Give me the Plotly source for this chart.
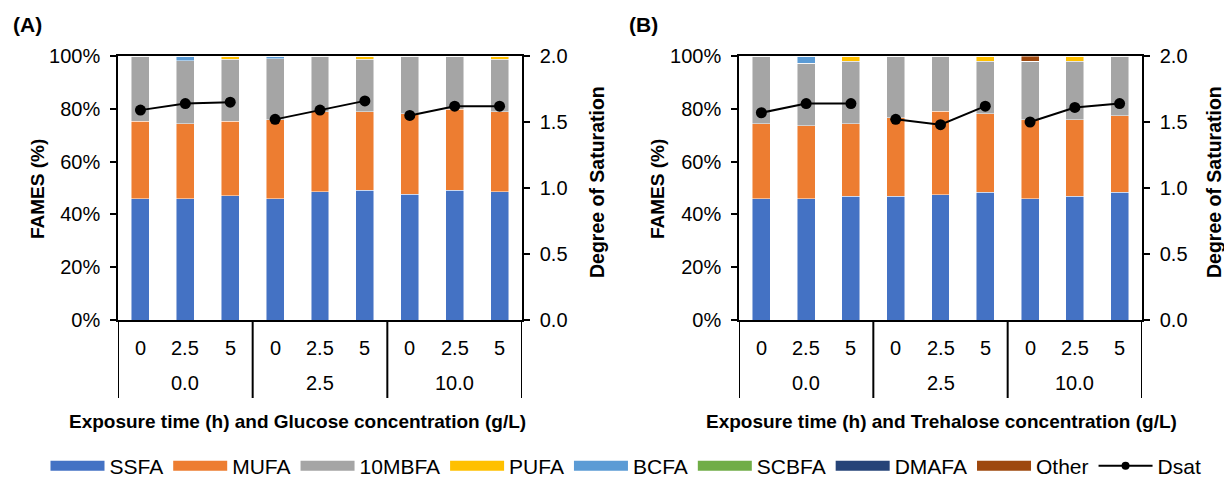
import plotly.graph_objects as go

W, H = 1224, 479

# ---------------- data ----------------
groups = ["0.0", "0.0", "0.0", "2.5", "2.5", "2.5", "10.0", "10.0", "10.0"]
times = ["0", "2.5", "5", "0", "2.5", "5", "0", "2.5", "5"]
group_labels = ["0.0", "2.5", "10.0"]

# Panel A (Glucose) - FAMES composition (%)
ssfa_a = [46.0, 46.0, 47.0, 46.0, 48.5, 49.2, 47.6, 49.2, 48.5]
mufa_a = [29.2, 28.4, 28.2, 29.8, 30.4, 29.7, 30.6, 30.6, 30.4]
mbfa_a = [24.8, 23.8, 23.5, 23.2, 21.1, 19.8, 21.8, 20.2, 19.8]
pufa_a = [0, 0, 1.3, 0, 0, 1.3, 0, 0, 1.3]
bcfa_a = [0, 1.8, 0, 1.0, 0, 0, 0, 0, 0]
scbfa_a = [0, 0, 0, 0, 0, 0, 0, 0, 0]
dmafa_a = [0, 0, 0, 0, 0, 0, 0, 0, 0]
other_a = [0, 0, 0, 0, 0, 0, 0, 0, 0]
dsat_a = [1.59, 1.64, 1.65, 1.52, 1.59, 1.66, 1.55, 1.62, 1.62]

# Panel B (Trehalose)
ssfa_b = [46.0, 46.0, 46.8, 46.8, 47.5, 48.3, 46.0, 46.8, 48.3]
mufa_b = [28.4, 27.6, 27.6, 29.9, 31.6, 29.9, 29.9, 29.1, 29.1]
mbfa_b = [25.6, 23.6, 23.6, 23.3, 20.9, 19.8, 22.1, 22.1, 22.6]
pufa_b = [0, 0, 2.0, 0, 0, 2.0, 0, 2.0, 0]
bcfa_b = [0, 2.8, 0, 0, 0, 0, 0, 0, 0]
scbfa_b = [0, 0, 0, 0, 0, 0, 0, 0, 0]
dmafa_b = [0, 0, 0, 0, 0, 0, 0, 0, 0]
other_b = [0, 0, 0, 0, 0, 0, 2.0, 0, 0]
dsat_b = [1.57, 1.64, 1.64, 1.52, 1.48, 1.62, 1.50, 1.61, 1.64]

series_names = ["SSFA", "MUFA", "10MBFA", "PUFA", "BCFA", "SCBFA", "DMAFA", "Other"]
colors = ["#4472C4", "#ED7D31", "#A5A5A5", "#FFC000", "#5B9BD5", "#70AD47", "#264478", "#9E480E"]

FONT = "Liberation Sans, Arial, sans-serif"

# unique category keys (hidden) built from groups/times
cats = [f"{g}|{t}" for g, t in zip(groups, times)]

fig = go.Figure()

panels = [
    ([ssfa_a, mufa_a, mbfa_a, pufa_a, bcfa_a, scbfa_a, dmafa_a, other_a], dsat_a, "x", "y", "y2"),
    ([ssfa_b, mufa_b, mbfa_b, pufa_b, bcfa_b, scbfa_b, dmafa_b, other_b], dsat_b, "x2", "y3", "y4"),
]

for vals, dsat, xa, ya, ya2 in panels:
    for name, col, v in zip(series_names, colors, vals):
        fig.add_trace(go.Bar(
            x=cats, y=v, name=name, marker_color=col,
            marker_line=dict(color="rgba(255,255,255,0.6)", width=0.8),
            xaxis=xa, yaxis=ya, showlegend=False,
        ))
    for g in range(3):
        sl = slice(3 * g, 3 * g + 3)
        fig.add_trace(go.Scatter(
            x=cats[sl], y=dsat[sl], mode="lines+markers",
            line=dict(color="black", width=2), marker=dict(color="black", size=11),
            xaxis=xa, yaxis=ya2, showlegend=False, name="Dsat",
        ))

# legend-only entries on a hidden axis
for name, col in zip(series_names, colors):
    fig.add_trace(go.Scatter(
        x=[None], y=[None], mode="lines", name=name,
        line=dict(color=col, width=10), xaxis="x3", yaxis="y5",
    ))
fig.add_trace(go.Scatter(
    x=[None], y=[None], mode="lines+markers", name="Dsat",
    line=dict(color="black", width=2), marker=dict(color="black", size=8),
    xaxis="x3", yaxis="y5",
))

ybot, ytop = 1 - 320 / H, 1 - 56 / H
tickfont = dict(family=FONT, size=20, color="black")

def xax(domain, anchor):
    return dict(
        domain=domain, anchor=anchor, type="category", categoryorder="array", categoryarray=cats,
        range=[-0.5, len(cats) - 0.5],
        showline=True, linecolor="black", linewidth=1.5, mirror=True,
        showticklabels=False, showgrid=False, ticks="", automargin=False,
    )

def yleft(anchor):
    return dict(
        domain=[ybot, ytop], anchor=anchor, range=[0, 100], dtick=20, ticksuffix="%",
        showline=True, linecolor="black", linewidth=1.5, ticks="outside", ticklen=6,
        tickwidth=1.5, tickcolor="black", showgrid=False, zeroline=False, tickfont=tickfont,
        ticklabelstandoff=6, automargin=False,
    )

def yright(over, anchor):
    return dict(
        overlaying=over, side="right", anchor=anchor, range=[0, 2], dtick=0.5,
        tickformat=".1f", showline=True, linecolor="black", linewidth=1.5,
        ticks="outside", ticklen=6, tickwidth=1.5, tickcolor="black",
        showgrid=False, zeroline=False, tickfont=tickfont, ticklabelstandoff=6, automargin=False,
    )

title_font = dict(family=FONT, size=19, color="black")

annotations = [
    dict(text="<b>(A)</b>", x=27 / W, y=1 - 24 / H, font=dict(family=FONT, size=21, color="black"),
         xref="paper", yref="paper"),
    dict(text="<b>(B)</b>", x=643 / W, y=1 - 24 / H, font=dict(family=FONT, size=21, color="black"),
         xref="paper", yref="paper"),
    dict(text="<b>FAMES (%)</b>", x=38 / W, y=1 - 189 / H, textangle=-90, font=title_font,
         xref="paper", yref="paper"),
    dict(text="<b>FAMES (%)</b>", x=658 / W, y=1 - 189 / H, textangle=-90, font=title_font,
         xref="paper", yref="paper"),
    dict(text="<b>Degree of Saturation</b>", x=597 / W, y=1 - 182 / H, textangle=-90,
         font=dict(family=FONT, size=19.5, color="black"), xref="paper", yref="paper"),
    dict(text="<b>Degree of Saturation</b>", x=1214 / W, y=1 - 182 / H, textangle=-90,
         font=dict(family=FONT, size=19.5, color="black"), xref="paper", yref="paper"),
    dict(text="<b>Exposure time (h) and Glucose concentration (g/L)</b>", x=297 / W, y=1 - 421 / H,
         font=title_font, xref="paper", yref="paper"),
    dict(text="<b>Exposure time (h) and Trehalose concentration (g/L)</b>", x=941 / W, y=1 - 421 / H,
         font=title_font, xref="paper", yref="paper"),
]

shapes = []
for xa in ["x", "x2"]:
    # inner category labels (exposure time)
    for c, t in zip(cats, times):
        annotations.append(dict(text=t, x=c, xref=xa, y=1 - 348 / H, yref="paper",
                                font=tickfont))
    # outer group labels (concentration), centred under middle category of each group
    for gi, gl in enumerate(group_labels):
        annotations.append(dict(text=gl, x=cats[3 * gi + 1], xref=xa, y=1 - 383 / H, yref="paper",
                                font=tickfont))
    # group dividers
    for b in [-0.5, 2.5, 5.5, 8.5]:
        shapes.append(dict(type="line", xref=xa, yref="paper", x0=b, x1=b,
                           y0=1 - 320 / H, y1=1 - 398 / H, line=dict(color="black", width=2)))

for a in annotations:
    a.update(showarrow=False, xanchor="center", yanchor="middle")

fig.update_layout(
    width=W, height=H, margin=dict(l=0, r=0, t=0, b=0, autoexpand=False),
    paper_bgcolor="white", plot_bgcolor="white",
    barmode="stack", bargap=0.6,
    font=dict(family=FONT, size=20, color="black"),
    xaxis=xax([118 / W, 522 / W], "y"),
    yaxis=yleft("x"),
    yaxis2=yright("y", "x"),
    xaxis2=xax([739 / W, 1142 / W], "y3"),
    yaxis3=yleft("x2"),
    yaxis4=yright("y3", "x2"),
    xaxis3=dict(domain=[0, 0.01], anchor="y5", visible=False),
    yaxis5=dict(domain=[0, 0.01], anchor="x3", visible=False),
    legend=dict(orientation="h", x=626 / W, xanchor="center", y=1 - 466 / H, yanchor="middle",
                traceorder="normal", itemwidth=54,
                font=dict(family=FONT, size=21, color="black"), bgcolor="rgba(0,0,0,0)"),
    annotations=annotations,
    shapes=shapes,
)

fig.write_html("out.html")
